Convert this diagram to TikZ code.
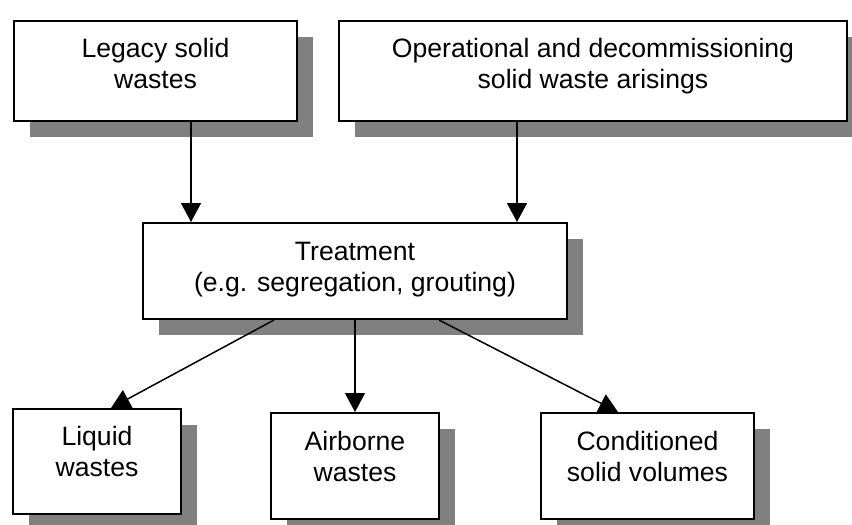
\documentclass[tikz,border=0pt]{standalone}
\usepackage{fontspec}
\setmainfont{Liberation Sans}
\usetikzlibrary{arrows.meta,shadows}
\begin{document}
\begin{tikzpicture}[x=1pt,y=-1pt,
  box/.style={draw=black, line width=2pt, fill=white, rectangle, inner sep=0pt,
    anchor=north west,
    general shadow={fill=black!50, shadow xshift=16pt, shadow yshift=-16pt}},
  lbl/.style={anchor=base, inner sep=0pt, font=\fontsize{26.6pt}{31pt}\selectfont},
  arr/.style={line width=1.5pt, -{Triangle[length=19pt,width=20pt]}}
]
\useasboundingbox (0,0) rectangle (852,525);
\node[box, minimum width=283pt, minimum height=100pt] (b1) at (13,20) {};
\node[box, minimum width=508pt, minimum height=100pt] (b2) at (338,20) {};
\node[box, minimum width=424pt, minimum height=96pt] (tr) at (142,222) {};
\node[box, minimum width=168pt, minimum height=105pt] (lq) at (12,408) {};
\node[box, minimum width=168pt, minimum height=106pt] (ab) at (270,412) {};
\node[box, minimum width=213pt, minimum height=106pt] (cs) at (540,412) {};

\node[lbl] (b1t) at ([yshift=-37pt]b1.north) {\begin{tabular}[t]{@{}c@{}}Legacy solid\\wastes\end{tabular}};
\node[lbl] (b2t) at ([yshift=-37pt]b2.north) {\begin{tabular}[t]{@{}c@{}}Operational and decommissioning\\solid waste arisings\end{tabular}};
\node[lbl] (trt) at ([yshift=-38pt]tr.north) {\begin{tabular}[t]{@{}c@{}}Treatment\\(e.g. segregation, grouting)\end{tabular}};
\node[lbl] (lqt) at ([yshift=-37pt]lq.north) {\begin{tabular}[t]{@{}c@{}}Liquid\\wastes\end{tabular}};
\node[lbl] (abt) at ([yshift=-38pt]ab.north) {\begin{tabular}[t]{@{}c@{}}Airborne\\wastes\end{tabular}};
\node[lbl] (cst) at ([yshift=-38pt]cs.north) {\begin{tabular}[t]{@{}c@{}}Conditioned\\solid volumes\end{tabular}};

\draw[arr] ([xshift=35.5pt]b1.south) -- ([xshift=-164pt]tr.north);
\draw[arr] ([xshift=-76pt]b2.south) -- ([xshift=162pt]tr.north);
\draw[arr] ([xshift=-81pt]tr.south) -- ([xshift=14pt]lq.north);
\draw[arr] (tr.south) -- (ab.north);
\draw[arr] ([xshift=84pt]tr.south) -- ([xshift=-29.5pt]cs.north);
\end{tikzpicture}
\end{document}
